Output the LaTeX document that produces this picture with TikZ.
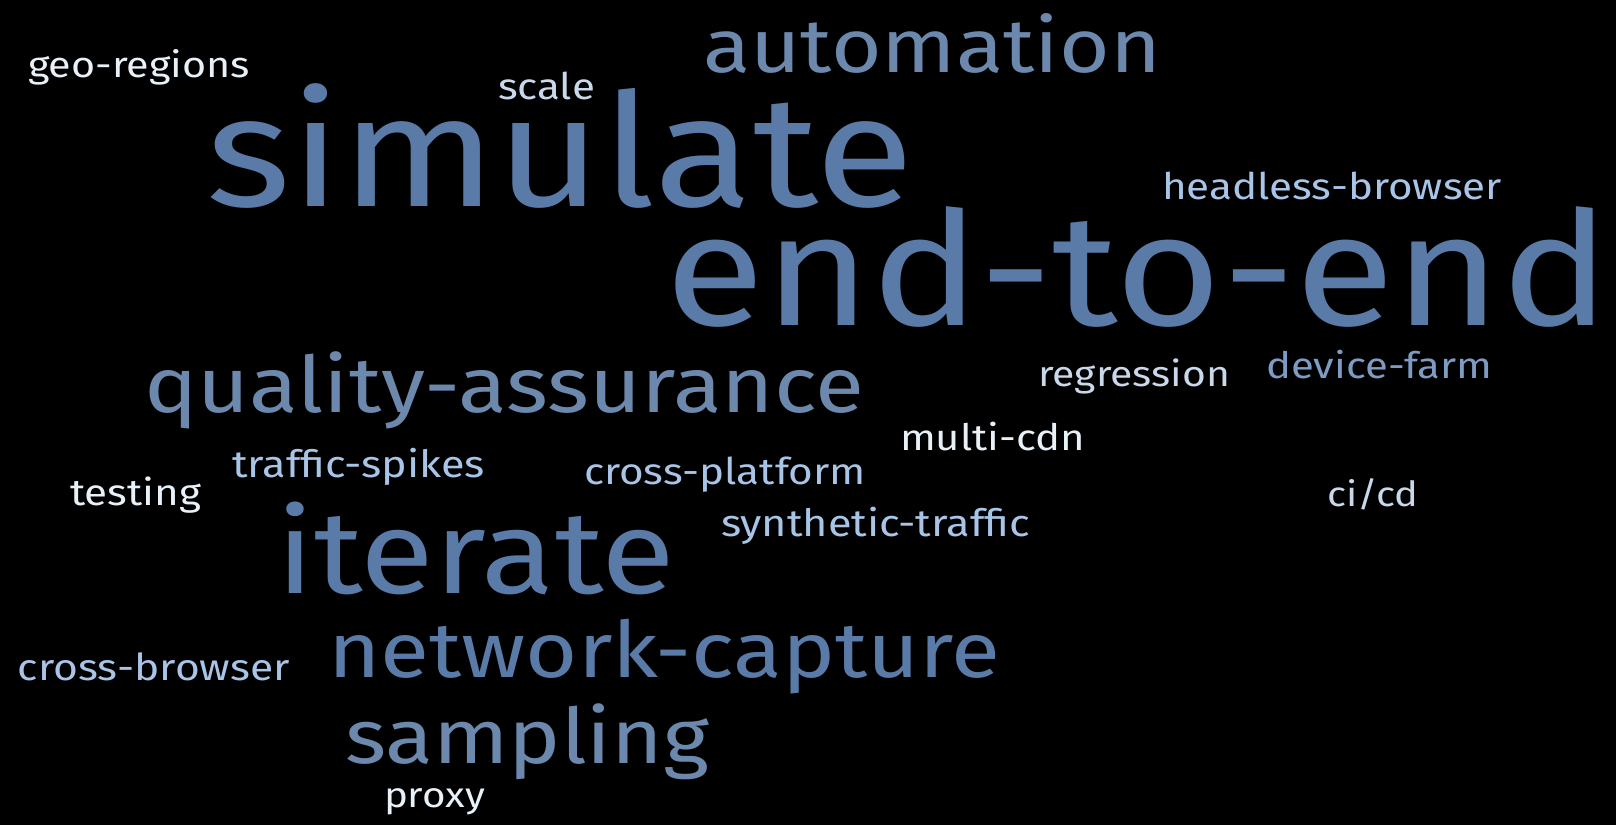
\documentclass[tikz,border=0pt]{standalone}
\usepackage{fontspec}
\setmainfont{Fira Sans}
\usepackage{graphicx}

\definecolor{deepblue}{HTML}{5A7BA8}
\definecolor{greyblue}{HTML}{6C89AD}
\definecolor{midblue}{HTML}{7D9BC3}
\definecolor{lightblue}{HTML}{A8C4E6}
\definecolor{paleblue}{HTML}{C9D8EA}
\definecolor{nearwhite}{HTML}{E8F0F8}

% word scaled to a width given in pixels (1px = 0.5pt), a bit flattened
\newcommand{\cloudword}[2]{\resizebox{#1\dimexpr 0.5pt\relax}{!}{\scalebox{1}[0.87]{#2}}}

\tikzset{
  word/.style={anchor=base west, inner sep=0pt, outer sep=0pt},
  big/.style={word, text=deepblue},
  grey/.style={word, text=greyblue},
  mid/.style={word, text=midblue},
  light/.style={word, text=lightblue},
  pale/.style={word, text=paleblue},
  white/.style={word, text=nearwhite}
}

\begin{document}
\begin{tikzpicture}[x=0.5pt, y=-0.5pt]
\fill[black] (0,0) rectangle (1616,825);
\useasboundingbox (0,0) rectangle (1616,825);

% largest words
\node[big] (simulate) at (206,206) {\cloudword{708}{simulate}};
\node[big] (endtoend) at (665,325) {\cloudword{945}{end-to-end}};
\node[big] (iterate) at (276,593) {\cloudword{399}{iterate}};
\node[big] (netcap) at (328,677) {\cloudword{672}{network-capture}};

% second tier
\node[grey] (automation) at (703,72) {\cloudword{458}{automation}};
\node[grey] (qa) at (144,412) {\cloudword{720}{quality-assurance}};
\node[grey] (sampling) at (345,763) {\cloudword{364}{sampling}};
\node[mid] (devfarm) at (1266,378) {\cloudword{226}{device-farm}};

% small words
\node[light] (headless) at (1162,199) {\cloudword{340}{headless-browser}};
\node[light] (crossplat) at (584,484) {\cloudword{282}{cross-platform}};
\node[light] (synth) at (721,536) {\cloudword{309}{synthetic-traffic}};
\node[light] (crossbrow) at (18,680) {\cloudword{272}{cross-browser}};
\node[light] (spikes) at (232,477) {\cloudword{253}{traffic-spikes}};
\node[pale] (scale) at (498,99) {\cloudword{97}{scale}};
\node[pale] (cicd) at (1327,506) {\cloudword{91}{ci/cd}};
\node[pale] (regression) at (1038,386) {\cloudword{192}{regression}};
\node[white] (geo) at (28,77) {\cloudword{222}{geo-regions}};
\node[white] (testing) at (70,505) {\cloudword{131}{testing}};
\node[white] (multicdn) at (900,450) {\cloudword{185}{multi-cdn}};
\node[white] (proxy) at (384,807) {\cloudword{101}{proxy}};
\end{tikzpicture}
\end{document}
